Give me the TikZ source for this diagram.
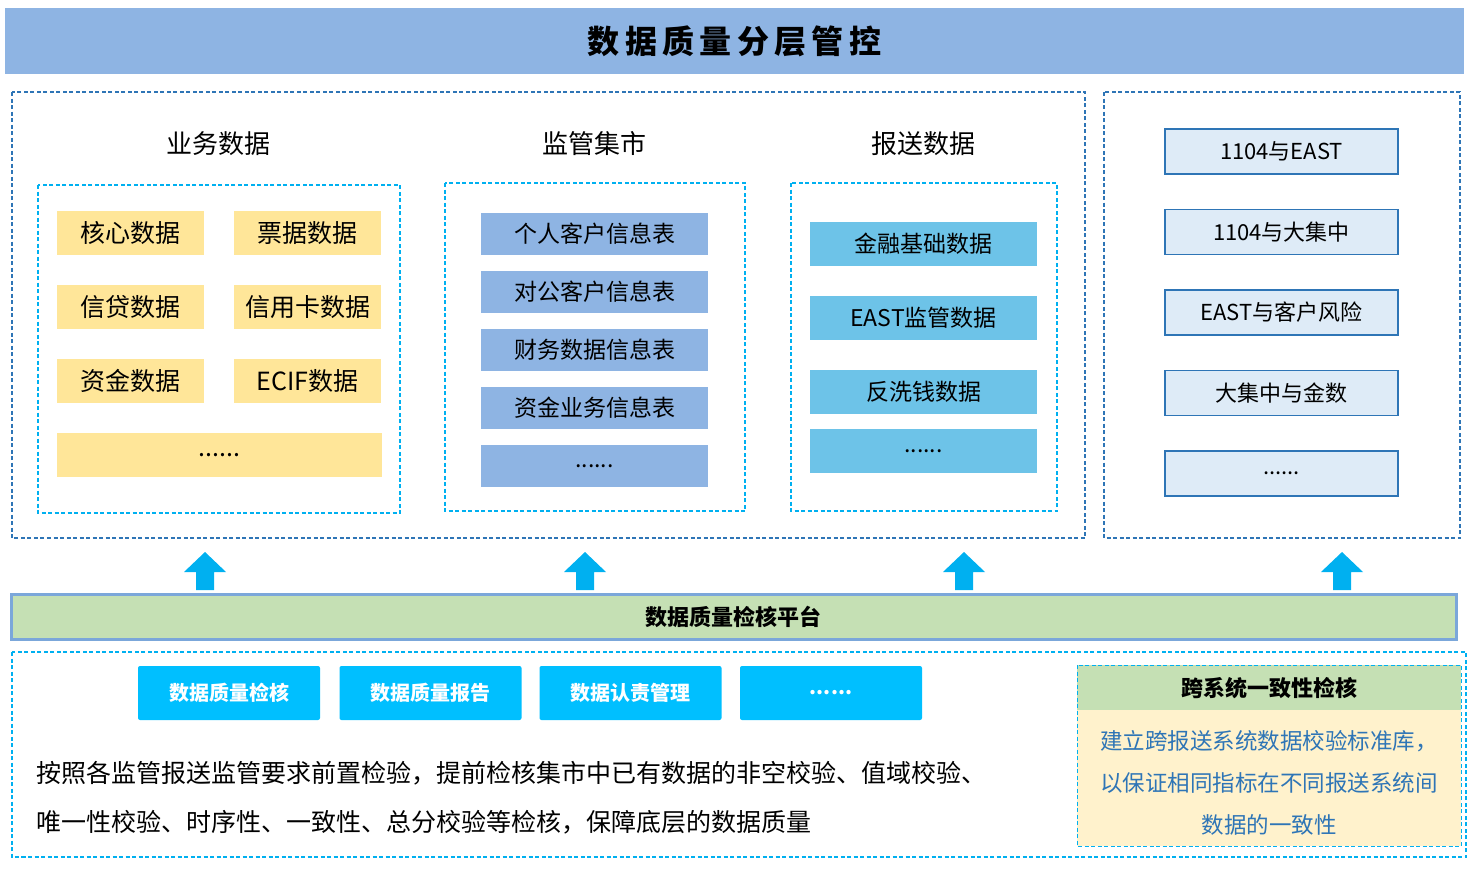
\documentclass[tikz,border=0pt]{standalone}
\usepackage{fontspec}
\setmainfont{Noto Sans CJK SC}
\newfontfamily\cjkb[BoldFont={Noto Sans CJK SC Bold}]{Noto Sans CJK SC}
\begin{document}
\begin{tikzpicture}[x=1pt,y=-1pt,
  dashbox/.style={draw=#1,dashed,line width=1.3pt,dash pattern=on 4pt off 2.5pt},
  yel/.style={fill=yellow!45!orange!40!white,draw=none,inner sep=0},
  item/.style={draw=none,inner sep=0,font=\fontsize{23}{23}\selectfont},
  rbox/.style={fill=blue!8,draw=blue!55!cyan!70!black,line width=1.6pt,inner sep=0,font=\fontsize{22}{22}\selectfont},
  btn/.style={fill=cyan!75!blue!80,draw=none,rounded corners=2pt,inner sep=0,text=white,font=\fontsize{20}{20}\selectfont\bfseries},
  up/.style={fill=cyan!80!blue!90,draw=none}
]
\definecolor{yl}{HTML}{FFE699}\definecolor{bl}{HTML}{8EB4E3}\definecolor{cy}{HTML}{6DC3E8}
\definecolor{db}{HTML}{2E75B6}\definecolor{lb}{HTML}{00B0F0}\definecolor{gr}{HTML}{C5E0B4}
\definecolor{rb}{HTML}{DEEBF7}\definecolor{ab}{HTML}{00BFFF}\definecolor{pl}{HTML}{FFF2CC}
\definecolor{tx}{HTML}{2E75B6}
\useasboundingbox (0,0) rectangle (1477,873);
\node[fill=bl,minimum width=1459pt,minimum height=66pt,inner sep=0,font=\fontsize{32}{32}\selectfont\bfseries] (title) at (734.5,41) {数\,据\,质\,量\,分\,层\,管\,控};
\draw[dashbox=db] (12,92) rectangle (1085,538);
\draw[dashbox=db] (1104,92) rectangle (1460,538);
\node[font=\fontsize{26}{26}\selectfont] (h1) at (218,144) {业务数据};
\node[font=\fontsize{26}{26}\selectfont] (h2) at (594,144) {监管集市};
\node[font=\fontsize{26}{26}\selectfont] (h3) at (923,144) {报送数据};
\draw[dashbox=lb] (38,185) rectangle (400,513);
\draw[dashbox=lb] (445,183) rectangle (745,511);
\draw[dashbox=lb] (791,183) rectangle (1057,511);
\tikzset{yi/.style={item,fill=yl,minimum width=147pt,minimum height=44pt,font=\fontsize{25}{25}\selectfont}}
\node[yi] (y1) at (130.5,233) {核心数据};
\node[yi] (y2) at (307.5,233) {票据数据};
\node[yi] (y3) at (130.5,307) {信贷数据};
\node[yi] (y4) at (307.5,307) {信用卡数据};
\node[yi] (y5) at (130.5,381) {资金数据};
\node[yi] (y6) at (307.5,381) {ECIF数据};
\node[yi,minimum width=325pt] (y7) at (219.5,455) {......};
\tikzset{bi/.style={item,fill=bl,minimum width=227pt,minimum height=42pt}}
\node[bi] (b1) at (594.5,234) {个人客户信息表};
\node[bi] (b2) at (594.5,292) {对公客户信息表};
\node[bi] (b3) at (594.5,350) {财务数据信息表};
\node[bi] (b4) at (594.5,408) {资金业务信息表};
\node[bi] (b5) at (594.5,466) {......};
\tikzset{ci/.style={item,fill=cy,minimum width=227pt,minimum height=44pt}}
\node[ci] (c1) at (923.5,244) {金融基础数据};
\node[ci] (c2) at (923.5,318) {EAST监管数据};
\node[ci] (c3) at (923.5,392) {反洗钱数据};
\node[ci] (c4) at (923.5,451) {......};
\tikzset{ri/.style={rbox,fill=rb,draw=db,minimum width=233pt,minimum height=45pt}}
\node[ri] (r1) at (1281.5,151.5) {1104与EAST};
\node[ri] (r2) at (1281.5,232) {1104与大集中};
\node[ri] (r3) at (1281.5,312.5) {EAST与客户风险};
\node[ri] (r4) at (1281.5,393) {大集中与金数};
\node[ri] (r5) at (1281.5,473.5) {......};
\foreach \x in {205,585,964,1342}{
  \fill[lb] (\x-9,590) -- (\x-9,572) -- (\x-21,572) -- (\x,552) -- (\x+21,572) -- (\x+9,572) -- (\x+9,590) -- cycle;}
\node[fill=gr,draw=bl!80!db,line width=3pt,minimum width=1445pt,minimum height=45pt,inner sep=0,font=\fontsize{22}{22}\selectfont\bfseries] (plat) at (733.5,616.5) {数据质量检核平台};
\draw[dashbox=lb] (12,652) rectangle (1466,857);
\tikzset{bt/.style={fill=ab,draw=none,rounded corners=2pt,inner sep=0,text=white,font=\fontsize{20}{20}\selectfont\bfseries,minimum width=182pt,minimum height=54pt}}
\node[bt] (k1) at (229,693) {数据质量检核};
\node[bt] (k2) at (430.5,693) {数据质量报告};
\node[bt] (k3) at (630.5,693) {数据认责管理};
\node[bt] (k4) at (831,693) {......};
\node[anchor=west,inner sep=0,font=\fontsize{25}{25}\selectfont] (p1) at (36,773) {按照各监管报送监管要求前置检验，提前检核集市中已有数据的非空校验、值域校验、};
\node[anchor=west,inner sep=0,font=\fontsize{25}{25}\selectfont] (p2) at (36,822) {唯一性校验、时序性、一致性、总分校验等检核，保障底层的数据质量};
\fill[pl] (1077,710) rectangle (1461,846);
\fill[gr] (1077,665) rectangle (1461,710);
\draw[dashbox=lb,line width=1pt] (1077,665) rectangle (1461,846);
\node[font=\fontsize{22}{22}\selectfont\bfseries] (rh) at (1269,688) {跨系统一致性检核};
\node[align=center,text=tx,font=\fontsize{22.5}{42}\selectfont] (rt) at (1269,783) {建立跨报送系统数据校验标准库，\\以保证相同指标在不同报送系统间\\数据的一致性};
\end{tikzpicture}
\end{document}
